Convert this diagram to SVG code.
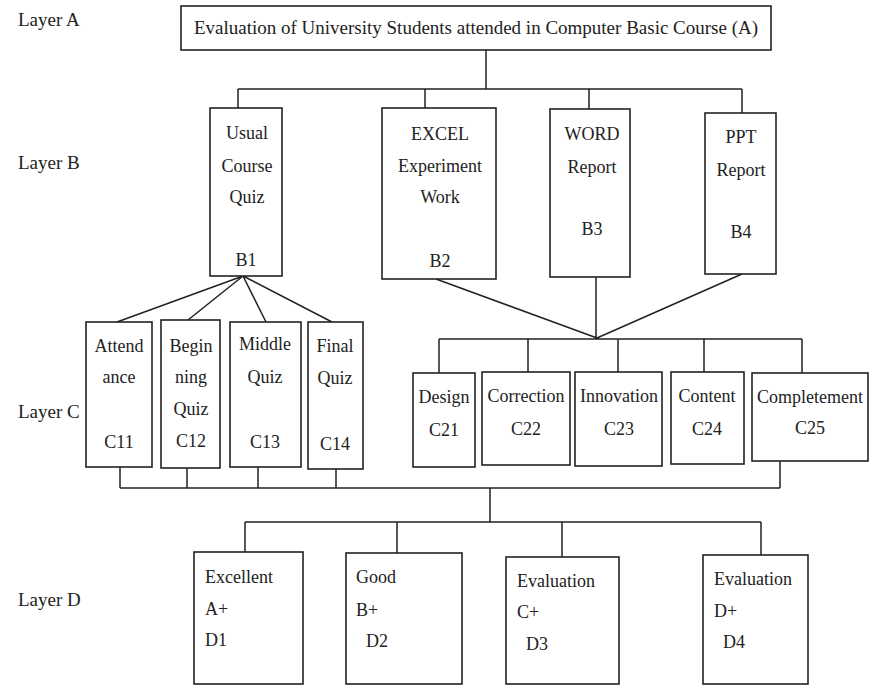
<svg xmlns="http://www.w3.org/2000/svg" width="873" height="688" viewBox="0 0 873 688">
<style>
rect{fill:#fff;stroke:#222;stroke-width:1.6}
text{font-family:"Liberation Serif","Times New Roman",serif;font-size:18px;fill:#222}
.c{text-anchor:middle}
.lbl{font-size:19px}
#connectors path{fill:none;stroke:#222;stroke-width:1.5}
</style>
<rect x="0" y="0" width="873" height="688" style="fill:#fff;stroke:none"/>
<g id="labels">
<text class="lbl" x="18" y="26">Layer A</text>
<text class="lbl" x="18" y="169">Layer B</text>
<text class="lbl" x="18" y="418">Layer C</text>
<text class="lbl" x="18" y="606">Layer D</text>
</g>
<g id="connectors">
<path d="M486,50V89M238,89H742M238,89V108M425,89V108M589,89V109M742,89V113"/>
<path d="M243,276L117,322M243,276L188,320M243,276L266,322M243,276L332,322"/>
<path d="M436,279L597,338M596,277V338M742,274L597,338M439,339H802M439,339V373M528,339V372M618,339V372M704,339V372M802,339V373"/>
<path d="M120,467V488M187,468V488M258,467V488M336,469V488M780,461V488M120,488H780M490,488V522M245,522H761M245,522V552M397,522V553M562,522V557M761,522V555"/>
</g>
<g id="A"><rect x="181" y="6" width="590" height="44"/><text class="c" x="476" y="34" style="font-size:19px">Evaluation of University Students attended in Computer Basic Course (A)</text></g>
<g id="B1"><rect x="210" y="108" width="72" height="168"/><text class="c" x="247" y="139">Usual</text><text class="c" x="247" y="172">Course</text><text class="c" x="247" y="203">Quiz</text><text class="c" x="246" y="266">B1</text></g>
<g id="B2"><rect x="382" y="108" width="114" height="171"/><text class="c" x="440" y="140">EXCEL</text><text class="c" x="440" y="172">Experiment</text><text class="c" x="440" y="203">Work</text><text class="c" x="440" y="267">B2</text></g>
<g id="B3"><rect x="550" y="109" width="80" height="168"/><text class="c" x="592" y="140">WORD</text><text class="c" x="592" y="173">Report</text><text class="c" x="592" y="235">B3</text></g>
<g id="B4"><rect x="705" y="113" width="71" height="161"/><text class="c" x="741" y="143">PPT</text><text class="c" x="741" y="176">Report</text><text class="c" x="741" y="238">B4</text></g>
<g id="C11"><rect x="86" y="322" width="66" height="145"/><text class="c" x="119" y="352">Attend</text><text class="c" x="119" y="383">ance</text><text class="c" x="119" y="448">C11</text></g>
<g id="C12"><rect x="161" y="320" width="59" height="148"/><text class="c" x="191" y="352">Begin</text><text class="c" x="191" y="383">ning</text><text class="c" x="191" y="415">Quiz</text><text class="c" x="191" y="447">C12</text></g>
<g id="C13"><rect x="230" y="322" width="71" height="145"/><text class="c" x="265" y="350">Middle</text><text class="c" x="265" y="383">Quiz</text><text class="c" x="265" y="448">C13</text></g>
<g id="C14"><rect x="308" y="322" width="55" height="147"/><text class="c" x="335" y="352">Final</text><text class="c" x="335" y="384">Quiz</text><text class="c" x="335" y="450">C14</text></g>
<g id="C21"><rect x="413" y="373" width="62" height="94"/><text class="c" x="444" y="403">Design</text><text class="c" x="444" y="436">C21</text></g>
<g id="C22"><rect x="482" y="372" width="88" height="93"/><text class="c" x="526" y="402">Correction</text><text class="c" x="526" y="435">C22</text></g>
<g id="C23"><rect x="575" y="372" width="87" height="94"/><text class="c" x="619" y="402">Innovation</text><text class="c" x="619" y="435">C23</text></g>
<g id="C24"><rect x="671" y="372" width="73" height="92"/><text class="c" x="707" y="402">Content</text><text class="c" x="707" y="435">C24</text></g>
<g id="C25"><rect x="752" y="373" width="116" height="88"/><text class="c" x="810" y="403">Completement</text><text class="c" x="810" y="434">C25</text></g>
<g id="D1"><rect x="194" y="552" width="109" height="132"/><text x="205" y="583">Excellent</text><text x="205" y="615">A+</text><text x="205" y="646">D1</text></g>
<g id="D2"><rect x="346" y="553" width="116" height="131"/><text x="356" y="583">Good</text><text x="356" y="616">B+</text><text x="366" y="647">D2</text></g>
<g id="D3"><rect x="506" y="557" width="113" height="127"/><text x="517" y="587">Evaluation</text><text x="517" y="618">C+</text><text x="526" y="650">D3</text></g>
<g id="D4"><rect x="703" y="555" width="105" height="129"/><text x="714" y="585">Evaluation</text><text x="714" y="617">D+</text><text x="723" y="648">D4</text></g>
</svg>
